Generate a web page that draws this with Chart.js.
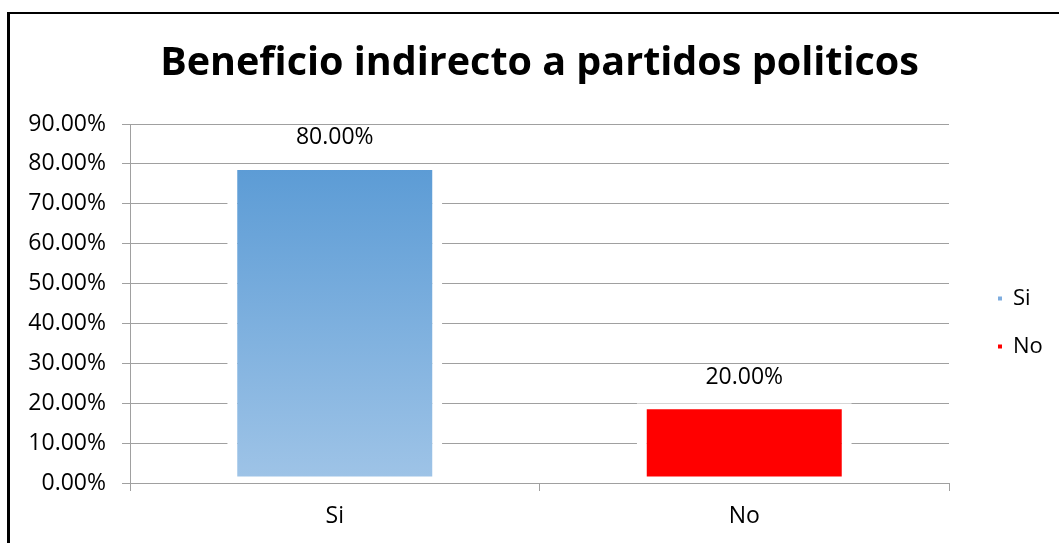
<!DOCTYPE html>
<html><head><meta charset="utf-8">
<script src="https://cdn.jsdelivr.net/npm/chart.js@4.4.0/dist/chart.umd.min.js"></script>
<style>
html,body{margin:0;padding:0;background:#fff;}
#wrap{position:relative;width:1059px;height:543px;overflow:hidden;}
#frame{position:absolute;left:7px;top:12px;width:1200px;height:700px;border-left:3px solid #000;border-top:2px solid #000;box-sizing:border-box;}
canvas{position:absolute;left:0;top:0;}
</style></head><body>
<div id="wrap"><div id="frame"></div><canvas id="c" width="1059" height="543"></canvas></div>
<script>
const chartTitle = 'Beneficio indirecto a partidos politicos';
const categories = ['Si', 'No'];
const values = [0.80, 0.20];
const valueLabels = ['80.00%', '20.00%'];
const yTickLabels = ['0.00%','10.00%','20.00%','30.00%','40.00%','50.00%','60.00%','70.00%','80.00%','90.00%'];

const FONT = '"Open Sans", "Noto Sans", sans-serif';
Chart.defaults.font.family = FONT;
Chart.defaults.color = '#000';

const siTop = '#5b9bd5', siBottom = '#9fc4e7', noColor = '#ff0000';
const legendColors = ['#7eaddf', '#ff0000'];

function barFill(ctx) {
  const chart = ctx.chart;
  if (ctx.dataIndex === 1) return noColor;
  if (!chart.chartArea || !chart.scales.y) return siTop;
  const y = chart.scales.y;
  const g = chart.ctx.createLinearGradient(0, y.getPixelForValue(values[0]), 0, y.getPixelForValue(0));
  g.addColorStop(0, siTop);
  g.addColorStop(1, siBottom);
  return g;
}

const labelPlugin = {
  id: 'valueLabels',
  afterDatasetsDraw(chart) {
    const meta = chart.getDatasetMeta(0);
    const c = chart.ctx;
    c.save();
    c.font = '23px ' + FONT;
    c.fillStyle = '#000';
    c.textAlign = 'center';
    c.textBaseline = 'middle';
    meta.data.forEach((el, i) => { c.fillText(valueLabels[i], el.x, el.y - 26); });
    c.restore();
  }
};

const legendPlace = {
  id: 'legendPlace',
  beforeLayout(chart) {
    const lg = chart.legend;
    if (lg && !lg._fixed) {
      const f = lg.fit;
      lg.fit = function () { f.call(this); this.width = 110; };
      lg._fixed = true;
    }
  },
  afterLayout(chart) {
    const lg = chart.legend;
    const dx = 23, dy = 51;
    lg.left += dx; lg.right += dx; lg.top += dy; lg.bottom += dy;
  }
};

new Chart(document.getElementById('c'), {
  type: 'bar',
  data: {
    labels: categories,
    datasets: [{
      label: 'Serie',
      data: values,
      backgroundColor: barFill,
      borderColor: '#ffffff',
      borderWidth: { top: 6, bottom: 6, left: 10, right: 10 },
      borderSkipped: false,
      barPercentage: 0.525,
      categoryPercentage: 1
    }]
  },
  options: {
    responsive: false,
    animation: false,
    layout: { padding: { left: 20, right: 0, top: 0, bottom: 0 } },
    plugins: {
      title: {
        display: true,
        text: chartTitle,
        font: { size: 39.5, weight: 'bold', family: FONT },
        color: '#000',
        padding: { top: 40, bottom: 36.6 }
      },
      legend: {
        position: 'right',
        onClick: null,
        labels: {
          font: { size: 22 },
          color: '#000',
          boxWidth: 4,
          boxHeight: 4,
          padding: 26,
          generateLabels: () => categories.map((c, i) => ({
            text: c, fillStyle: legendColors[i], strokeStyle: legendColors[i], lineWidth: 0, hidden: false, index: i
          }))
        }
      },
      tooltip: { enabled: false }
    },
    scales: {
      x: {
        offset: true,
        z: 1,
        grid: { display: true, drawOnChartArea: false, offset: true, tickLength: 8, color: '#a0a0a0', tickColor: '#a0a0a0' },
        border: { color: '#a0a0a0', width: 1 },
        ticks: { font: { size: 23 }, color: '#000', padding: 12 },
        afterFit: s => { s.height = 60; }
      },
      y: {
        min: 0, max: 0.9,
        grid: { color: '#a0a0a0', lineWidth: 1, tickLength: 8, tickColor: '#a0a0a0' },
        border: { color: '#a0a0a0', width: 1 },
        ticks: { stepSize: 0.1, font: { size: 23 }, color: '#000', padding: 16, callback: (v, i) => yTickLabels[i] },
        afterFit: s => { s.width = 110; }
      }
    }
  },
  plugins: [labelPlugin, legendPlace]
});
</script>
</body></html>
